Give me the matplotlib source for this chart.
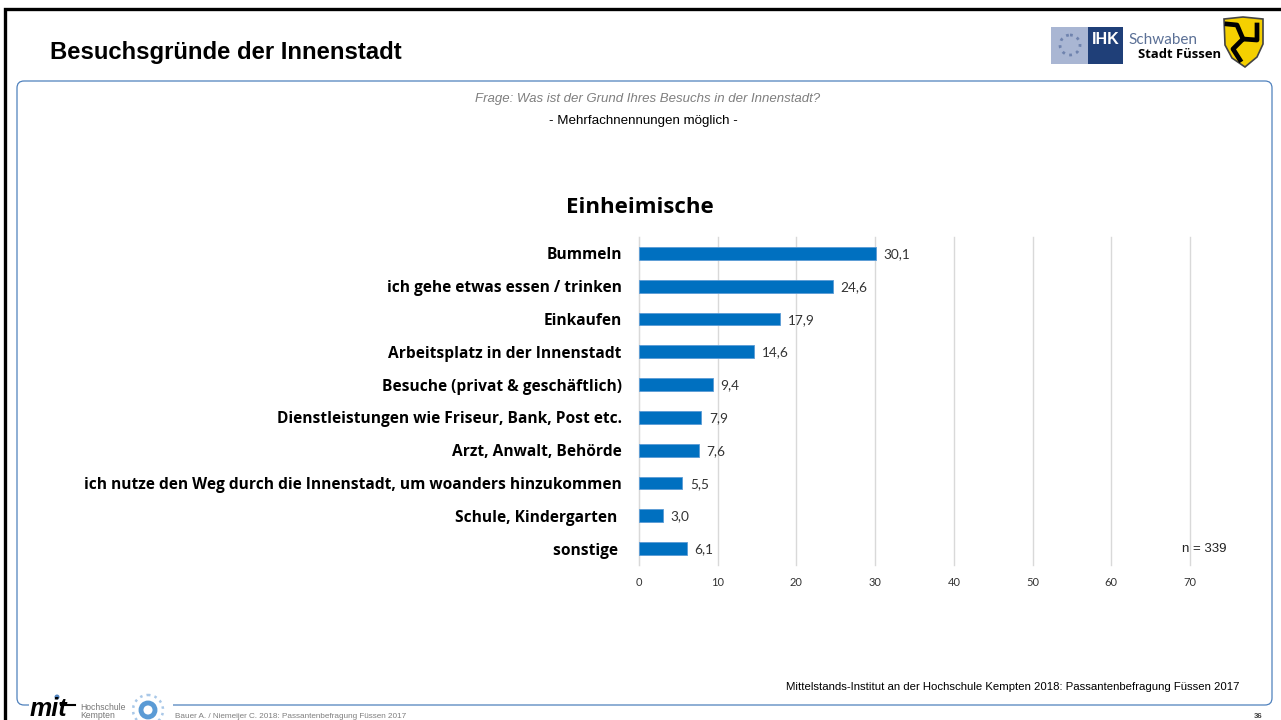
# Besuchsgründe der Innenstadt - Folie nachbauen
import matplotlib
matplotlib.use("Agg")
import matplotlib.pyplot as plt
from matplotlib.patches import FancyBboxPatch, Rectangle, Polygon, Circle

W, H = 1281, 720

categories = [
    "Bummeln",
    "ich gehe etwas essen / trinken",
    "Einkaufen",
    "Arbeitsplatz in der Innenstadt",
    "Besuche (privat & geschäftlich)",
    "Dienstleistungen wie Friseur, Bank, Post etc.",
    "Arzt, Anwalt, Behörde",
    "ich nutze den Weg durch die Innenstadt, um woanders hinzukommen",
    "Schule, Kindergarten ",
    "sonstige ",
]
values = [30.1, 24.6, 17.9, 14.6, 9.4, 7.9, 7.6, 5.5, 3.0, 6.1]
x_ticks = [0, 10, 20, 30, 40, 50, 60, 70]

plt.rcParams["font.family"] = ["Liberation Sans", "DejaVu Sans"]
LABEL_FONT = ["Lato", "DejaVu Sans"]
BOLD_FONT = ["Open Sans", "DejaVu Sans"]
BAR_BLUE = "#0070C0"
FRAME_BLUE = "#4F81BD"

fig = plt.figure(figsize=(W / 100, H / 100), dpi=100)

# Hintergrund-Ebene in Pixelkoordinaten
bg = fig.add_axes([0, 0, 1, 1])
bg.set_xlim(0, W)
bg.set_ylim(H, 0)
bg.axis("off")

# schwarzer Folienrahmen
bg.plot([5, 5, W], [H, 9, 9], color="black", lw=2.4, solid_joinstyle="miter")

# Inhaltsrahmen
bg.add_patch(FancyBboxPatch((17, 81), 1255, 624, boxstyle="round,pad=0,rounding_size=7",
                            fc="white", ec=FRAME_BLUE, lw=0.9))
bg.add_patch(Rectangle((29, 698), 144, 22, fc="white", ec="none"))

# Titel und Frage
bg.text(50, 52, "Besuchsgründe der Innenstadt", fontsize=17.2, fontweight="bold", va="center")
bg.text(648, 99, "Frage: Was ist der Grund Ihres Besuchs in der Innenstadt?", fontsize=9.5,
        style="italic", color="#7F7F7F", ha="center", va="center")
bg.text(643, 121, "- Mehrfachnennungen möglich -", fontsize=9.6, ha="center", va="center")
bg.text(640, 207.5, "Einheimische", fontsize=16, fontweight="bold", ha="center", va="center",
        family=BOLD_FONT)

# IHK Logo
bg.add_patch(Rectangle((1051, 27), 37, 37, fc="#A9B6D3", ec="none"))
bg.add_patch(Rectangle((1088, 27), 35, 37, fc="#1F3F78", ec="none"))
bg.add_patch(Circle((1070, 45), 10, fc="none", ec="#6F83AE", lw=2, ls=":"))
bg.text(1105.5, 40, "IHK", fontsize=11.5, fontweight="bold", color="white", ha="center", va="center")
bg.text(1128, 40, "Schwaben", fontsize=11, color="#5B7096", va="center", family=LABEL_FONT)
bg.text(1138, 55, "Stadt Füssen", fontsize=9.4, fontweight="bold", va="center", family=BOLD_FONT)

# Wappen Füssen
bg.add_patch(Polygon([(1224, 19), (1243, 17), (1263, 19), (1263, 44), (1257, 57), (1245, 67), (1232, 58), (1225, 45)],
                     closed=True, fc="#F5D000", ec="#444444", lw=1.2))
for leg in ([(1243, 39), (1237, 25), (1227, 24)],
            [(1243, 39), (1257, 40), (1257, 25)],
            [(1243, 39), (1233, 49), (1240, 60)]):
    bg.plot(*zip(*leg), color="black", lw=3.4, solid_joinstyle="round")

# mit Logo
bg.text(30, 716.5, "mit", fontsize=18, fontweight="bold", style="italic", va="baseline")
bg.plot([61, 75], [705, 705], color="black", lw=1.5)
bg.add_patch(Circle((57, 697), 2.5, fc="#4F81BD", ec="none"))
bg.text(80, 707, "Hochschule", fontsize=6.2, color="#777777", va="center")
bg.text(80, 715, "Kempten", fontsize=6.2, color="#777777", va="center")
bg.add_patch(Circle((148, 710), 7, fc="none", ec="#5B9BD5", lw=3.5))
bg.add_patch(Circle((148, 710), 15, fc="none", ec="#A9C8E8", lw=1.8, ls=":"))

# Fusszeile
bg.text(175, 716, "Bauer A. / Niemeijer C. 2018: Passantenbefragung Füssen 2017", fontsize=5.85,
        color="#7F7F7F", va="center")
bg.text(1262, 716, "36", fontsize=5.6, fontweight="bold", color="#404040", ha="right", va="center")
bg.text(1239, 687, "Mittelstands-Institut an der Hochschule Kempten 2018: Passantenbefragung Füssen 2017",
        fontsize=8.18, ha="right", va="center")

# Balkendiagramm
ax = fig.add_axes([639 / W, 1 - 565 / H, (1190 - 639) / W, (565 - 237) / H])
ax.patch.set_alpha(0)
positions = list(range(len(categories)))
bars = ax.barh(positions, values, height=0.39, color=BAR_BLUE, edgecolor="#5B9BD5", linewidth=0.6, zorder=3)
ax.set_xlim(0, 70)
ax.set_ylim(len(categories) - 0.5, -0.5)
ax.set_xticks(x_ticks)
ax.set_yticks(positions)
ax.set_yticklabels(categories, fontsize=11.2, fontweight="bold", family=BOLD_FONT)
ax.tick_params(axis="y", length=0, pad=12.5)
ax.tick_params(axis="x", length=0, pad=8.5, labelsize=8, labelcolor="#333333")
for lab in ax.get_xticklabels():
    lab.set_family(LABEL_FONT)
ax.grid(axis="x", color="#D9D9D9", lw=1, zorder=0)
ax.set_axisbelow(True)
for name, spine in ax.spines.items():
    spine.set_visible(name == "left")
ax.spines["left"].set_color("#D9D9D9")
# letzte Gitterlinie liegt genau am Achsenrand
for gl in ax.get_xgridlines():
    gl.set_clip_on(False)
for bar, val in zip(bars, values):
    ax.annotate(f"{val:.1f}".replace(".", ","), (val, bar.get_y() + bar.get_height() / 2),
                xytext=(5.5, -0.5), textcoords="offset points", va="center",
                fontsize=9.8, color="#333333", family=LABEL_FONT)

bg.text(1226, 549, "n = 339", fontsize=9.5, ha="right", va="center", color="#222222")

fig.savefig("out.png", dpi=100)
